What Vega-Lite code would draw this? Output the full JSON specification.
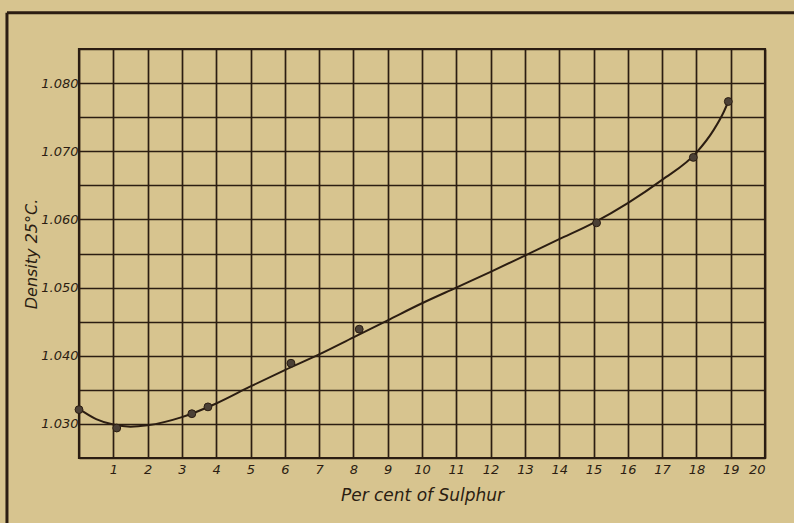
{
  "$schema": "https://vega.github.io/schema/vega-lite/v6.json",
  "width": 686,
  "height": 409,
  "autosize": {"type": "none"},
  "padding": {"left": 79, "top": 49, "right": 29, "bottom": 65},
  "background": "#d7c48f",
  "config": {
    "view": {"stroke": "#2b1d12", "strokeWidth": 2.2, "fill": "#d7c48f"},
    "font": "DejaVu Sans",
    "axis": {
      "labelFont": "DejaVu Sans",
      "labelFontStyle": "italic",
      "labelColor": "#2b1d12",
      "titleFont": "DejaVu Sans",
      "titleFontStyle": "italic",
      "titleFontWeight": "normal",
      "titleColor": "#2b1d12",
      "gridColor": "#2b1d12",
      "gridOpacity": 1,
      "gridWidth": 1.7,
      "domain": false,
      "ticks": false
    }
  },
  "datasets": {
    "observed": [
      {"sulphur": 0, "density": 1.0321},
      {"sulphur": 1.1, "density": 1.0294},
      {"sulphur": 3.29, "density": 1.0315},
      {"sulphur": 3.76, "density": 1.0325},
      {"sulphur": 6.18, "density": 1.0389},
      {"sulphur": 8.17, "density": 1.0439},
      {"sulphur": 15.09, "density": 1.0595},
      {"sulphur": 17.91, "density": 1.0691},
      {"sulphur": 18.93, "density": 1.0773}
    ],
    "curve": [
      {"sulphur": 0, "density": 1.0322},
      {"sulphur": 0.5, "density": 1.0307},
      {"sulphur": 1, "density": 1.0299},
      {"sulphur": 1.5, "density": 1.0296},
      {"sulphur": 2, "density": 1.0298},
      {"sulphur": 3, "density": 1.031},
      {"sulphur": 4, "density": 1.033},
      {"sulphur": 5, "density": 1.0355},
      {"sulphur": 6, "density": 1.0379},
      {"sulphur": 7, "density": 1.0402},
      {"sulphur": 8, "density": 1.0427},
      {"sulphur": 9, "density": 1.0452},
      {"sulphur": 10, "density": 1.0477},
      {"sulphur": 11, "density": 1.05},
      {"sulphur": 12, "density": 1.0523},
      {"sulphur": 13, "density": 1.0547},
      {"sulphur": 14, "density": 1.0571},
      {"sulphur": 15, "density": 1.0595},
      {"sulphur": 16, "density": 1.0624},
      {"sulphur": 17, "density": 1.0658},
      {"sulphur": 18, "density": 1.0698},
      {"sulphur": 18.5, "density": 1.0731},
      {"sulphur": 18.8, "density": 1.0758},
      {"sulphur": 18.93, "density": 1.0773}
    ]
  },
  "encoding": {
    "x": {
      "type": "quantitative",
      "scale": {"domain": [0, 20], "nice": false, "zero": false},
      "axis": {
        "title": "Per cent of Sulphur",
        "values": [0, 1, 2, 3, 4, 5, 6, 7, 8, 9, 10, 11, 12, 13, 14, 15, 16, 17, 18, 19, 20],
        "labelExpr": "datum.value == 0 ? '' : datum.label",
        "labelFontSize": 13,
        "labelPadding": 5,
        "titleFontSize": 17,
        "titlePadding": 11,
        "grid": true
      }
    },
    "y": {
      "type": "quantitative",
      "scale": {"domain": [1.025, 1.085], "nice": false, "zero": false},
      "axis": {
        "title": "Density 25°C.",
        "values": [1.025, 1.03, 1.035, 1.04, 1.045, 1.05, 1.055, 1.06, 1.065, 1.07, 1.075, 1.08, 1.085],
        "labelExpr": "round(datum.value * 1000) % 10 == 0 ? format(datum.value, '.3f') : ''",
        "labelFontSize": 13,
        "labelPadding": 1,
        "titleFontSize": 16,
        "titlePadding": 1,
        "grid": true
      }
    }
  },
  "layer": [
    {
      "data": {"name": "curve"},
      "mark": {"type": "line", "interpolate": "monotone", "color": "#2b1d12", "strokeWidth": 2},
      "encoding": {
        "x": {"field": "sulphur"},
        "y": {"field": "density"}
      }
    },
    {
      "data": {"name": "observed"},
      "mark": {"type": "circle", "size": 62, "fill": "#4b4036", "stroke": "#2b1d12", "strokeWidth": 1, "opacity": 1},
      "encoding": {
        "x": {"field": "sulphur"},
        "y": {"field": "density"}
      }
    },
    {
      "data": {"values": [{}]},
      "mark": {"type": "rule", "color": "#2b1d12", "strokeWidth": 3},
      "encoding": {
        "x": {"datum": -2.1},
        "x2": {"datum": 21.5},
        "y": {"datum": 1.0903}
      }
    },
    {
      "data": {"values": [{}]},
      "mark": {"type": "rule", "color": "#2b1d12", "strokeWidth": 3},
      "encoding": {
        "x": {"datum": -2.1},
        "y": {"datum": 1.0903},
        "y2": {"datum": 1.01}
      }
    }
  ]
}
